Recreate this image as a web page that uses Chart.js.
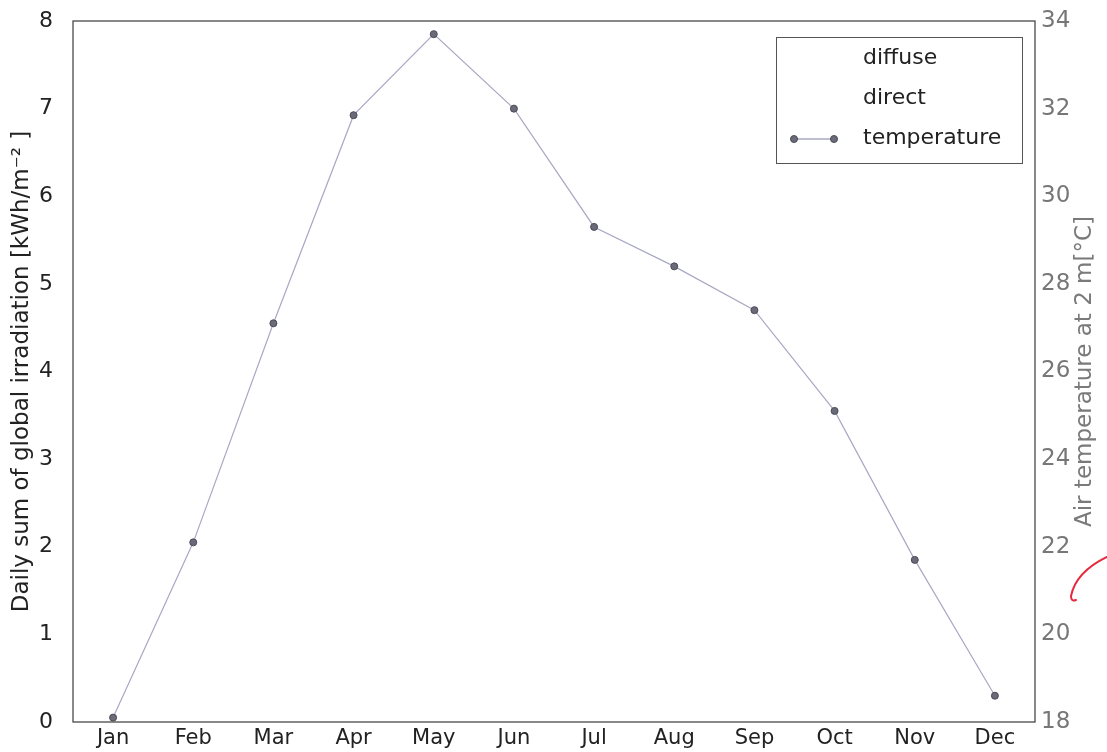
<!DOCTYPE html>
<html>
<head>
<meta charset="utf-8">
<script src="https://cdn.jsdelivr.net/npm/chart.js@4.4.0/dist/chart.umd.min.js"></script>
<style>
html,body{margin:0;padding:0;background:#fff;}
#wrap{width:1107px;height:752px;position:relative;}
</style>
</head>
<body>
<div id="wrap"><canvas id="c" width="1107" height="752"></canvas></div>
<script>
const months = ["Jan","Feb","Mar","Apr","May","Jun","Jul","Aug","Sep","Oct","Nov","Dec"];
const temperature = [18.1, 22.1, 27.1, 31.85, 33.7, 32.0, 29.3, 28.4, 27.4, 25.1, 21.7, 18.6];
const diffuse = [];
const direct = [];
const leftTicks = [0,1,2,3,4,5,6,7,8];
const rightTicks = [18,20,22,24,26,28,30,32,34];
const leftTitle = 'Daily sum of global irradiation [kWh/m\u207B\u00B2 ]';
const rightTitle = 'Air temperature at 2 m[\u00B0C]';

const FONT = "'DejaVu Sans', sans-serif";

const decor = {
  id: 'decor',
  afterDraw(chart) {
    const {ctx, chartArea: a} = chart;
    ctx.save();
    // frame
    ctx.strokeStyle = '#3a3a3a';
    ctx.lineWidth = 1.2;
    ctx.strokeRect(a.left, a.top, a.right - a.left, a.bottom - a.top);

    // right axis title, reading bottom-to-top
    ctx.save();
    ctx.translate(1085, (a.top + a.bottom) / 2);
    ctx.rotate(-Math.PI / 2);
    ctx.fillStyle = '#7a7a7a';
    ctx.font = "23px " + FONT;
    ctx.textAlign = 'center';
    ctx.textBaseline = 'middle';
    ctx.fillText(rightTitle, 0, 0);
    ctx.restore();

    // legend
    const bx = a.right - 13 - 246, by = a.top + 16, bw = 246, bh = 126;
    ctx.strokeStyle = '#555';
    ctx.lineWidth = 1;
    ctx.strokeRect(bx + 0.5, by + 0.5, bw, bh);
    ctx.font = "22px " + FONT;
    ctx.fillStyle = '#222';
    ctx.textAlign = 'left';
    ctx.textBaseline = 'middle';
    chart.data.datasets.forEach((ds, i) => {
      const cy = by + 21 + i * 40;
      ctx.fillText(ds.label, bx + 87, cy);
      if (ds.pointRadius > 0) {
        ctx.strokeStyle = ds.borderColor;
        ctx.lineWidth = 1.5;
        ctx.beginPath();
        ctx.moveTo(bx + 18, cy + 1);
        ctx.lineTo(bx + 58, cy + 1);
        ctx.stroke();
        [bx + 18, bx + 58].forEach(px => {
          ctx.beginPath();
          ctx.arc(px, cy + 1, ds.pointRadius, 0, Math.PI * 2);
          ctx.fillStyle = ds.pointBackgroundColor;
          ctx.fill();
          ctx.strokeStyle = ds.pointBorderColor;
          ctx.lineWidth = 1;
          ctx.stroke();
        });
        ctx.fillStyle = '#222';
      }
    });

    // handwritten red mark
    ctx.strokeStyle = '#e8283c';
    ctx.lineWidth = 2;
    ctx.lineCap = 'round';
    ctx.beginPath();
    ctx.moveTo(1107, 557);
    ctx.quadraticCurveTo(1076, 572, 1071, 596);
    ctx.quadraticCurveTo(1071, 602, 1076, 600);
    ctx.stroke();
    ctx.restore();
  }
};

function noPad(s) { s.paddingTop = 0; s.paddingBottom = 0; }

new Chart(document.getElementById('c'), {
  type: 'line',
  data: {
    labels: months,
    datasets: [
      {label: 'diffuse', data: diffuse, yAxisID: 'y', borderColor: 'rgba(0,0,0,0)', backgroundColor: 'rgba(0,0,0,0)', pointRadius: 0, borderWidth: 0},
      {label: 'direct', data: direct, yAxisID: 'y', borderColor: 'rgba(0,0,0,0)', backgroundColor: 'rgba(0,0,0,0)', pointRadius: 0, borderWidth: 0},
      {label: 'temperature', data: temperature, yAxisID: 'y1',
       borderColor: '#a8a8c4', borderWidth: 1.2, tension: 0,
       pointRadius: 3.5, pointBackgroundColor: '#6a6a78', pointBorderColor: '#4a4a58', pointBorderWidth: 1}
    ]
  },
  options: {
    responsive: false,
    animation: false,
    layout: {padding: {top: 21, left: 0, right: 0, bottom: 0}},
    plugins: {
      legend: {display: false},
      tooltip: {enabled: false}
    },
    scales: {
      x: {
        offset: true,
        grid: {display: false, drawTicks: false},
        border: {display: false},
        ticks: {color: '#222', font: {family: FONT, size: 21}, padding: 4, maxRotation: 0},
        afterFit(s) { s.height = 30; s.paddingLeft = 0; s.paddingRight = 0; }
      },
      y: {
        position: 'left',
        min: 0, max: 8,
        afterBuildTicks(s) { s.ticks = leftTicks.map(v => ({value: v})); },
        grid: {display: false, drawTicks: false},
        border: {display: false},
        ticks: {color: '#222', font: {family: FONT, size: 22}, padding: 20},
        title: {display: true, text: leftTitle, color: '#222', font: {family: FONT, size: 23}, padding: {top: 8, bottom: 0}},
        afterFit(s) { s.width = 73; noPad(s); }
      },
      y1: {
        position: 'right',
        min: 18, max: 34,
        afterBuildTicks(s) { s.ticks = rightTicks.map(v => ({value: v})); },
        grid: {display: false, drawTicks: false},
        border: {display: false},
        ticks: {color: '#777', font: {family: FONT, size: 23}, padding: 6},
        afterFit(s) { s.width = 72; noPad(s); }
      }
    }
  },
  plugins: [decor]
});
</script>
</body>
</html>
